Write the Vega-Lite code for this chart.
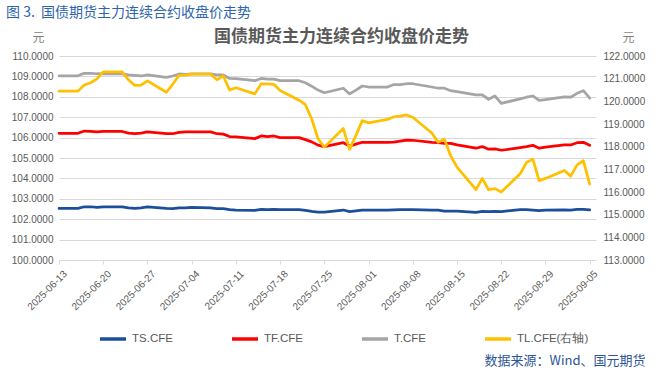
{
  "$schema": "https://vega.github.io/schema/vega-lite/v6.json",
  "width": 537,
  "height": 204,
  "autosize": {"type": "none"},
  "padding": {"left": 59, "top": 56, "right": 61, "bottom": 112},
  "background": "white",
  "config": {"view": {"stroke": null}, "font": "Noto Sans CJK SC"},
  "title": {
    "text": "图 3.\u00a0\u00a0国债期货主力连续合约收盘价走势",
    "anchor": "start",
    "frame": "group",
    "fontSize": 14,
    "fontWeight": "normal",
    "color": "#2E64AE",
    "font": "Noto Sans CJK SC",
    "dx": -53,
    "dy": -3
  },
  "data": {
    "values": [
      {"d": "2025-06-13", "TS": 102.53, "TF": 106.21, "T": 109.03, "TL": 120.45},
      {"d": "2025-06-16", "TS": 102.53, "TF": 106.21, "T": 109.03, "TL": 120.45},
      {"d": "2025-06-17", "TS": 102.61, "TF": 106.32, "T": 109.15, "TL": 120.72},
      {"d": "2025-06-18", "TS": 102.61, "TF": 106.30, "T": 109.15, "TL": 120.82},
      {"d": "2025-06-19", "TS": 102.58, "TF": 106.28, "T": 109.13, "TL": 120.99},
      {"d": "2025-06-20", "TS": 102.60, "TF": 106.30, "T": 109.12, "TL": 121.30},
      {"d": "2025-06-23", "TS": 102.60, "TF": 106.30, "T": 109.12, "TL": 121.30},
      {"d": "2025-06-24", "TS": 102.55, "TF": 106.22, "T": 109.07, "TL": 120.95},
      {"d": "2025-06-25", "TS": 102.53, "TF": 106.20, "T": 109.05, "TL": 120.70},
      {"d": "2025-06-26", "TS": 102.55, "TF": 106.22, "T": 109.02, "TL": 120.72},
      {"d": "2025-06-27", "TS": 102.60, "TF": 106.28, "T": 109.07, "TL": 120.90},
      {"d": "2025-06-30", "TS": 102.53, "TF": 106.19, "T": 108.95, "TL": 120.40},
      {"d": "2025-07-01", "TS": 102.52, "TF": 106.19, "T": 109.02, "TL": 120.75},
      {"d": "2025-07-02", "TS": 102.56, "TF": 106.26, "T": 109.12, "TL": 121.15},
      {"d": "2025-07-03", "TS": 102.56, "TF": 106.28, "T": 109.10, "TL": 121.16},
      {"d": "2025-07-04", "TS": 102.58, "TF": 106.28, "T": 109.12, "TL": 121.20},
      {"d": "2025-07-07", "TS": 102.56, "TF": 106.28, "T": 109.12, "TL": 121.20},
      {"d": "2025-07-08", "TS": 102.52, "TF": 106.19, "T": 109.07, "TL": 120.95},
      {"d": "2025-07-09", "TS": 102.52, "TF": 106.17, "T": 109.07, "TL": 121.12},
      {"d": "2025-07-10", "TS": 102.47, "TF": 106.05, "T": 108.90, "TL": 120.50},
      {"d": "2025-07-11", "TS": 102.45, "TF": 106.03, "T": 108.89, "TL": 120.60},
      {"d": "2025-07-14", "TS": 102.43, "TF": 105.95, "T": 108.79, "TL": 120.33},
      {"d": "2025-07-15", "TS": 102.48, "TF": 106.08, "T": 108.90, "TL": 120.77},
      {"d": "2025-07-16", "TS": 102.47, "TF": 106.05, "T": 108.87, "TL": 120.77},
      {"d": "2025-07-17", "TS": 102.48, "TF": 106.08, "T": 108.87, "TL": 120.75},
      {"d": "2025-07-18", "TS": 102.47, "TF": 106.00, "T": 108.79, "TL": 120.48},
      {"d": "2025-07-21", "TS": 102.47, "TF": 106.00, "T": 108.79, "TL": 120.05},
      {"d": "2025-07-22", "TS": 102.43, "TF": 105.90, "T": 108.69, "TL": 119.85},
      {"d": "2025-07-23", "TS": 102.38, "TF": 105.79, "T": 108.52, "TL": 119.22},
      {"d": "2025-07-24", "TS": 102.35, "TF": 105.63, "T": 108.33, "TL": 118.35},
      {"d": "2025-07-25", "TS": 102.35, "TF": 105.56, "T": 108.20, "TL": 117.98},
      {"d": "2025-07-28", "TS": 102.45, "TF": 105.75, "T": 108.42, "TL": 118.80},
      {"d": "2025-07-29", "TS": 102.37, "TF": 105.59, "T": 108.14, "TL": 117.88},
      {"d": "2025-07-30", "TS": 102.41, "TF": 105.68, "T": 108.33, "TL": 118.50},
      {"d": "2025-07-31", "TS": 102.45, "TF": 105.77, "T": 108.53, "TL": 119.15},
      {"d": "2025-08-01", "TS": 102.45, "TF": 105.77, "T": 108.48, "TL": 119.05},
      {"d": "2025-08-04", "TS": 102.45, "TF": 105.77, "T": 108.48, "TL": 119.20},
      {"d": "2025-08-05", "TS": 102.46, "TF": 105.78, "T": 108.60, "TL": 119.32},
      {"d": "2025-08-06", "TS": 102.47, "TF": 105.83, "T": 108.60, "TL": 119.35},
      {"d": "2025-08-07", "TS": 102.47, "TF": 105.88, "T": 108.64, "TL": 119.40},
      {"d": "2025-08-08", "TS": 102.47, "TF": 105.87, "T": 108.64, "TL": 119.30},
      {"d": "2025-08-11", "TS": 102.45, "TF": 105.77, "T": 108.48, "TL": 118.60},
      {"d": "2025-08-12", "TS": 102.44, "TF": 105.75, "T": 108.42, "TL": 118.20},
      {"d": "2025-08-13", "TS": 102.40, "TF": 105.72, "T": 108.42, "TL": 118.33},
      {"d": "2025-08-14", "TS": 102.40, "TF": 105.72, "T": 108.30, "TL": 117.60},
      {"d": "2025-08-15", "TS": 102.40, "TF": 105.64, "T": 108.25, "TL": 117.10},
      {"d": "2025-08-18", "TS": 102.34, "TF": 105.48, "T": 108.09, "TL": 116.10},
      {"d": "2025-08-19", "TS": 102.38, "TF": 105.56, "T": 108.09, "TL": 116.60},
      {"d": "2025-08-20", "TS": 102.37, "TF": 105.43, "T": 107.88, "TL": 116.10},
      {"d": "2025-08-21", "TS": 102.38, "TF": 105.45, "T": 108.04, "TL": 116.15},
      {"d": "2025-08-22", "TS": 102.37, "TF": 105.38, "T": 107.68, "TL": 116.00},
      {"d": "2025-08-25", "TS": 102.47, "TF": 105.51, "T": 107.90, "TL": 116.80},
      {"d": "2025-08-26", "TS": 102.47, "TF": 105.56, "T": 107.98, "TL": 117.30},
      {"d": "2025-08-27", "TS": 102.45, "TF": 105.62, "T": 108.04, "TL": 117.45},
      {"d": "2025-08-28", "TS": 102.42, "TF": 105.48, "T": 107.82, "TL": 116.50},
      {"d": "2025-08-29", "TS": 102.45, "TF": 105.53, "T": 107.86, "TL": 116.60},
      {"d": "2025-09-01", "TS": 102.46, "TF": 105.64, "T": 108.00, "TL": 116.95},
      {"d": "2025-09-02", "TS": 102.45, "TF": 105.64, "T": 107.98, "TL": 116.70},
      {"d": "2025-09-03", "TS": 102.48, "TF": 105.75, "T": 108.17, "TL": 117.20},
      {"d": "2025-09-04", "TS": 102.48, "TF": 105.77, "T": 108.30, "TL": 117.38},
      {"d": "2025-09-05", "TS": 102.46, "TF": 105.62, "T": 107.93, "TL": 116.35}
    ]
  },
  "transform": [{"fold": ["TS", "TF", "T", "TL"], "as": ["s", "v"]}],
  "layer": [
    {
      "transform": [{"filter": "datum.s !== 'TL'"}],
      "mark": {"type": "line", "strokeWidth": 2.75, "strokeJoin": "round", "strokeCap": "round"},
      "encoding": {
        "x": {
          "field": "d", "type": "temporal",
          "scale": {"type": "utc", "domain": [{"year": 2025, "month": 6, "date": 13, "utc": true}, {"year": 2025, "month": 9, "date": 6, "utc": true}]},
          "axis": {
            "orient": "bottom",
            "values": [
              {"year": 2025, "month": 6, "date": 13, "utc": true},
              {"year": 2025, "month": 6, "date": 20, "utc": true},
              {"year": 2025, "month": 6, "date": 27, "utc": true},
              {"year": 2025, "month": 7, "date": 4, "utc": true},
              {"year": 2025, "month": 7, "date": 11, "utc": true},
              {"year": 2025, "month": 7, "date": 18, "utc": true},
              {"year": 2025, "month": 7, "date": 25, "utc": true},
              {"year": 2025, "month": 8, "date": 1, "utc": true},
              {"year": 2025, "month": 8, "date": 8, "utc": true},
              {"year": 2025, "month": 8, "date": 15, "utc": true},
              {"year": 2025, "month": 8, "date": 22, "utc": true},
              {"year": 2025, "month": 8, "date": 29, "utc": true},
              {"year": 2025, "month": 9, "date": 5, "utc": true}
            ],
            "format": "%Y-%m-%d",
            "labelAngle": -45,
            "labelAlign": "right",
            "labelBaseline": "middle",
            "labelOffset": 6,
            "labelPadding": 8,
            "labelFont": "Liberation Sans",
            "labelFontSize": 10,
            "labelColor": "#595959",
            "labelOverlap": false,
            "tickSize": 4,
            "tickColor": "#D9D9D9",
            "domainColor": "#D9D9D9",
            "grid": false,
            "title": "数据来源：Wind、国元期货",
            "titleFont": "Noto Sans CJK SC",
            "titleFontSize": 13,
            "titleFontWeight": "normal",
            "titleColor": "#2E5597",
            "titleAnchor": "end",
            "titleAlign": "right",
            "titleBaseline": "middle",
            "titleX": 586,
            "titleY": 100
          }
        },
        "y": {
          "field": "v", "type": "quantitative",
          "scale": {"domain": [100, 110], "nice": false, "zero": false},
          "axis": {
            "values": [100, 101, 102, 103, 104, 105, 106, 107, 108, 109, 110],
            "format": ".4f",
            "grid": true,
            "gridColor": "#D9D9D9",
            "domain": false,
            "ticks": false,
            "labelFont": "Liberation Sans",
            "labelFontSize": 10,
            "labelColor": "#595959",
            "labelPadding": 6,
            "title": "元",
            "titleAngle": 0,
            "titleX": -21,
            "titleY": -19,
            "titleAlign": "center",
            "titleBaseline": "middle",
            "titleFont": "Noto Sans CJK SC",
            "titleFontSize": 12,
            "titleFontWeight": "normal",
            "titleColor": "#7F7F7F"
          }
        },
        "color": {
          "field": "s", "type": "nominal",
          "scale": {"domain": ["TS", "TF", "T", "TL"], "range": ["#1B4F9C", "#FF0000", "#A5A5A5", "#FFC000"]},
          "legend": {
            "orient": "none",
            "legendX": 39,
            "legendY": 268,
            "direction": "horizontal",
            "title": null,
            "symbolType": "stroke",
            "symbolSize": 676,
            "symbolStrokeWidth": 3.5,
            "labelFont": "Liberation Sans",
            "labelFontSize": 11.5,
            "labelColor": "#595959",
            "labelOffset": 4,
            "columnPadding": 52,
            "labelExpr": "datum.label === 'TL' ? 'TL.CFE(右轴)' : datum.label + '.CFE'"
          }
        }
      }
    },
    {
      "transform": [{"filter": "datum.s === 'TL'"}],
      "mark": {"type": "line", "strokeWidth": 2.75, "strokeJoin": "round", "strokeCap": "round"},
      "encoding": {
        "x": {
          "field": "d", "type": "temporal",
          "axis": {
            "orient": "top",
            "labels": false,
            "ticks": false,
            "domain": false,
            "grid": false,
            "title": "国债期货主力连续合约收盘价走势",
            "titleFont": "Noto Sans CJK SC",
            "titleFontSize": 17,
            "titleFontWeight": "bold",
            "titleColor": "#595959",
            "titleAnchor": "start",
            "titleAlign": "center",
            "titleBaseline": "middle",
            "titleX": 282,
            "titleY": -20
          }
        },
        "y": {
          "field": "v", "type": "quantitative",
          "scale": {"domain": [113, 122], "nice": false, "zero": false},
          "axis": {
            "orient": "right",
            "values": [113, 114, 115, 116, 117, 118, 119, 120, 121, 122],
            "format": ".4f",
            "grid": false,
            "domain": false,
            "ticks": false,
            "labelFont": "Liberation Sans",
            "labelFontSize": 10,
            "labelColor": "#595959",
            "labelPadding": 7,
            "title": "元",
            "titleAngle": 0,
            "titleX": 32,
            "titleY": -19,
            "titleAlign": "center",
            "titleBaseline": "middle",
            "titleFont": "Noto Sans CJK SC",
            "titleFontSize": 12,
            "titleFontWeight": "normal",
            "titleColor": "#7F7F7F"
          }
        },
        "color": {
          "field": "s", "type": "nominal",
          "scale": {"domain": ["TS", "TF", "T", "TL"], "range": ["#1B4F9C", "#FF0000", "#A5A5A5", "#FFC000"]}
        }
      }
    }
  ],
  "resolve": {"scale": {"y": "independent"}, "axis": {"x": "independent", "y": "independent"}}
}
